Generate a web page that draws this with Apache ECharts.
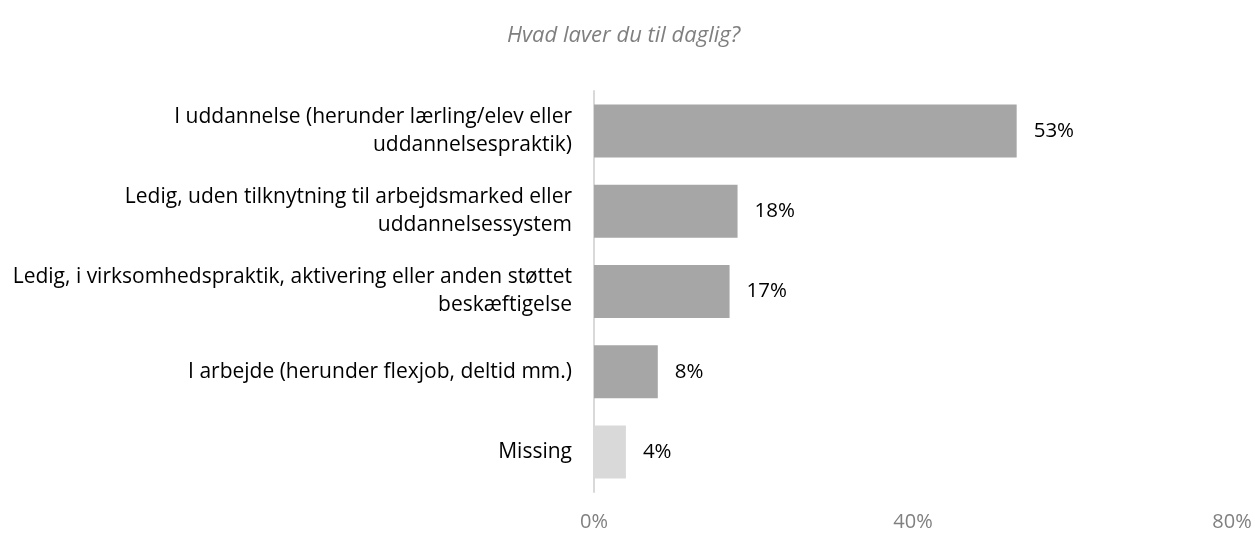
<!DOCTYPE html>
<html>
<head>
<meta charset="utf-8">
<script src="https://cdn.jsdelivr.net/npm/echarts@6/dist/echarts.min.js"></script>
<style>
  html, body { margin: 0; padding: 0; background: #ffffff; }
  #chart { width: 1255px; height: 534px; }
</style>
</head>
<body>
<div id="chart"></div>
<script>
// kategorier (linjeskift som i originalen)
const categories = [
  'I uddannelse (herunder lærling/elev eller\nuddannelsespraktik)',
  'Ledig, uden tilknytning til arbejdsmarked eller\nuddannelsessystem',
  'Ledig, i virksomhedspraktik, aktivering eller anden støttet\nbeskæftigelse',
  'I arbejde (herunder flexjob, deltid mm.)',
  'Missing'
];
const values = [53, 18, 17, 8, 4];
const barColors = ['#a6a6a6', '#a6a6a6', '#a6a6a6', '#a6a6a6', '#d9d9d9'];
const xTicks = [0, 40, 80];

const chart = echarts.init(document.getElementById('chart'));

const font = 'Open Sans';

const option = {
  backgroundColor: '#ffffff',
  animation: false,
  title: {
    text: 'Hvad laver du til daglig?',
    left: 502,
    top: 20,
    textStyle: {
      fontFamily: font,
      fontStyle: 'italic',
      fontWeight: 'normal',
      fontSize: 22,
      color: '#7f7f7f'
    }
  },
  grid: {
    left: 594,
    right: 23,
    top: 91,
    bottom: 42
  },
  xAxis: {
    type: 'value',
    min: xTicks[0],
    max: xTicks[xTicks.length - 1],
    interval: xTicks[1] - xTicks[0],
    axisLine: { show: false },
    axisTick: { show: false },
    splitLine: { show: false },
    axisLabel: {
      formatter: '{value}%',
      fontFamily: font,
      fontSize: 20,
      color: '#808080',
      margin: 20
    }
  },
  yAxis: {
    type: 'category',
    inverse: true,
    data: categories,
    axisLine: { lineStyle: { color: '#d9d9d9', width: 2 } },
    axisTick: { show: false },
    axisLabel: {
      fontFamily: font,
      fontSize: 21,
      lineHeight: 28,
      color: '#000000',
      margin: 22,
      align: 'right'
    }
  },
  series: [
    {
      type: 'bar',
      barWidth: 53,
      data: values.map((v, i) => ({
        value: v,
        itemStyle: { color: barColors[i] }
      })),
      label: {
        show: true,
        position: 'right',
        distance: 17,
        formatter: '{c}%',
        fontFamily: font,
        fontSize: 20.5,
        color: '#000000'
      }
    }
  ]
};

chart.setOption(option);
</script>
</body>
</html>
